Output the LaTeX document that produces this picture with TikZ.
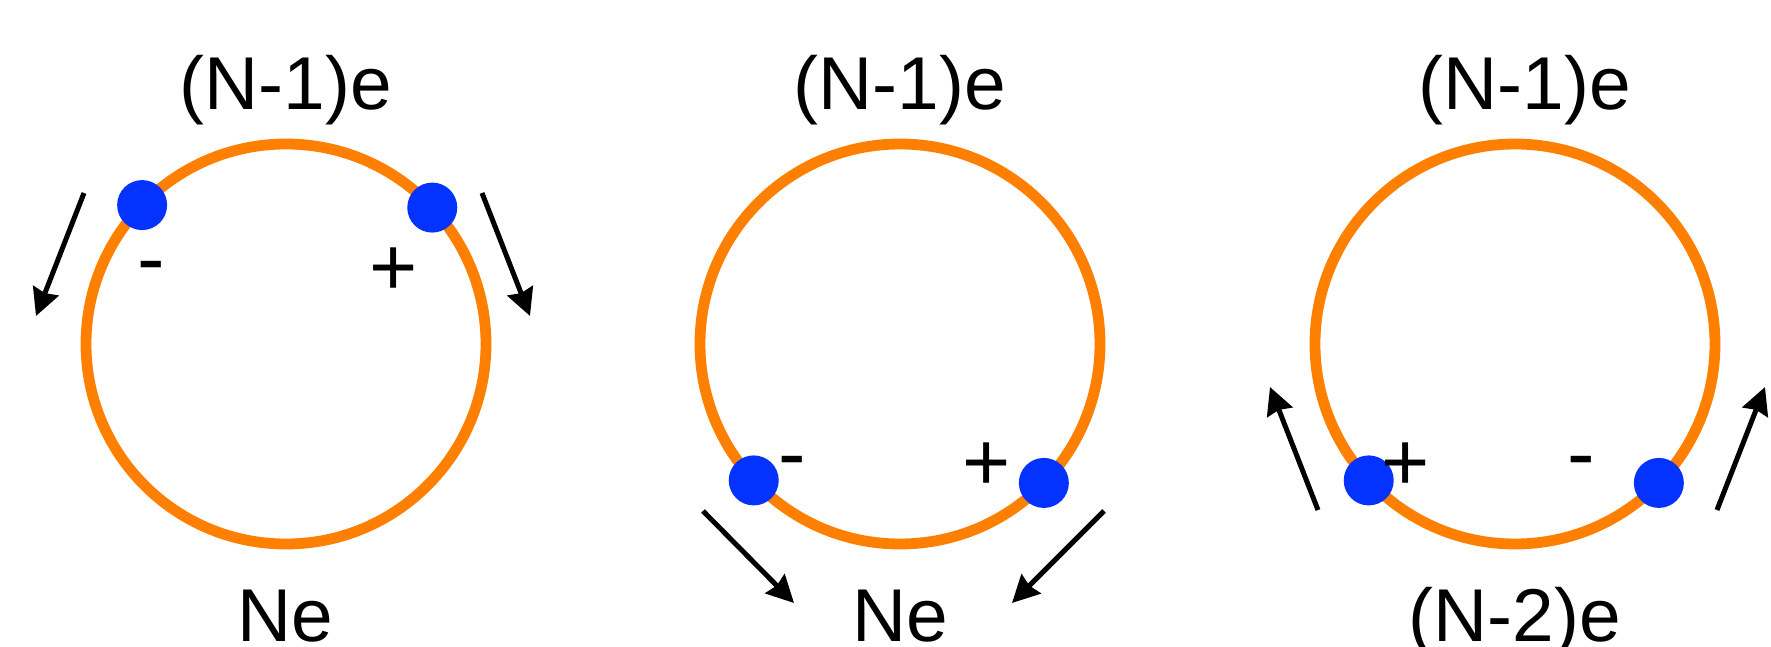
\documentclass[tikz,border=0pt]{standalone}
\usepackage{fontspec}
\setmainfont{Liberation Sans}
\usetikzlibrary{arrows.meta}

\definecolor{ring_orange}{RGB}{255,128,0}
\definecolor{dot_blue}{RGB}{4,51,255}

\begin{document}
\begin{tikzpicture}[
    ring/.style={circle, draw=ring_orange, line width=0.108cm,
                 minimum size=4cm, inner sep=0pt, outer sep=0pt},
    elec/.style={circle, fill=dot_blue, minimum size=0.5cm, inner sep=0pt},
    chg/.style={anchor=base, inner sep=0pt, font=\fontsize{23.5}{28}\selectfont},
    lbl/.style={anchor=base, inner sep=0pt, font=\fontsize{21.3}{26}\selectfont},
    mv/.style={-{Stealth[length=0.27cm, width=0.27cm, inset=0.025cm]},
               line width=0.05cm, black}
]
    \useasboundingbox (0,0) rectangle (17.71,6.46);

    % Rings
    \node[ring] (ring1) at ( 2.86, 3.02) {};
    \node[ring] (ring2) at ( 9.00, 3.02) {};
    \node[ring] (ring3) at (15.15, 3.02) {};

    % Charges on ring 1 (top)
    \node[elec] (e1a) at (ring1.136.5) {};
    \node[elec] (e1b) at (ring1.43.5)  {};
    \node[chg] (q1a) at (1.51, 3.59) {-};
    \node[chg] (q1b) at (3.94, 3.50) {+};

    % Charges on ring 2 (bottom)
    \node[elec] (e2a) at (ring2.223.5) {};
    \node[elec] (e2b) at (ring2.316.5) {};
    \node[chg] (q2a) at (7.92, 1.64) {-};
    \node[chg] (q2b) at (9.87, 1.56) {+};

    % Charges on ring 3 (bottom)
    \node[elec] (e3a) at (ring3.223.5) {};
    \node[elec] (e3b) at (ring3.316.5) {};
    \node[chg] (q3a) at (14.06, 1.56) {+};
    \node[chg] (q3b) at (15.81, 1.65) {-};

    % Charge labels
    \node[lbl] (top1) at ( 2.86, 5.365) {(N-1)e};
    \node[lbl] (top2) at ( 9.00, 5.365) {(N-1)e};
    \node[lbl] (top3) at (15.25, 5.365) {(N-1)e};
    \node[lbl] (bot1) at ( 2.855, 0.05) {Ne};
    \node[lbl] (bot2) at ( 9.00, 0.05) {Ne};
    \node[lbl] (bot3) at (15.15, 0.05) {(N-2)e};

    % Motion arrows
    \coordinate (m1a) at ( 0.84, 4.53); \coordinate (m1b) at ( 0.36, 3.30);
    \coordinate (m1c) at ( 4.82, 4.53); \coordinate (m1d) at ( 5.30, 3.30);
    \coordinate (m2a) at ( 7.03, 1.35); \coordinate (m2b) at ( 7.94, 0.43);
    \coordinate (m2c) at (11.04, 1.35); \coordinate (m2d) at (10.12, 0.43);
    \coordinate (m3a) at (13.18, 1.36); \coordinate (m3b) at (12.70, 2.59);
    \coordinate (m3c) at (17.17, 1.36); \coordinate (m3d) at (17.65, 2.59);
    \draw[mv] (m1a) -- (m1b);
    \draw[mv] (m1c) -- (m1d);
    \draw[mv] (m2a) -- (m2b);
    \draw[mv] (m2c) -- (m2d);
    \draw[mv] (m3a) -- (m3b);
    \draw[mv] (m3c) -- (m3d);

\end{tikzpicture}
\end{document}
